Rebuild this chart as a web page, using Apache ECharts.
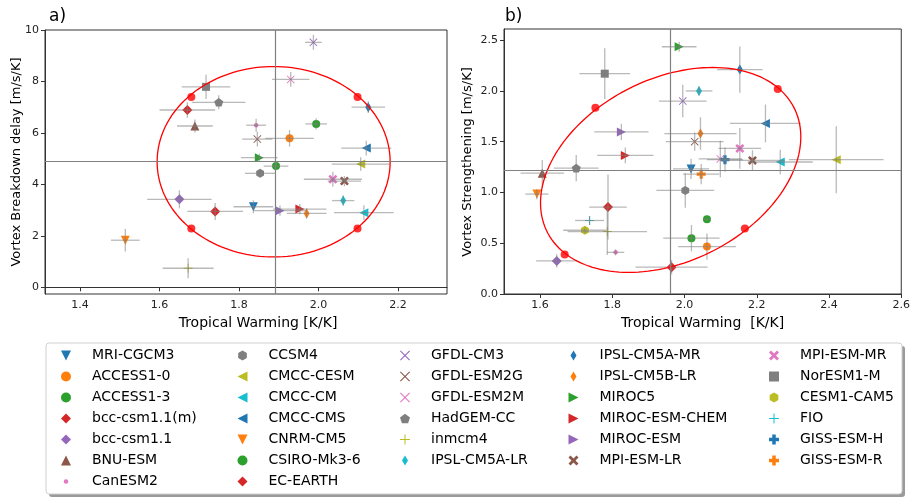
<!DOCTYPE html>
<html>
<head>
<meta charset="utf-8">
<script src="https://cdn.jsdelivr.net/npm/echarts@6/dist/echarts.min.js"></script>
<style>
html, body {margin: 0; padding: 0; background: #fff;}
#chart {width: 913px; height: 497px;}
</style>
</head>
<body>
<div id="chart"></div>
<script>
// model names, in legend order
const models = ['MRI-CGCM3', 'ACCESS1-0', 'ACCESS1-3', 'bcc-csm1.1(m)', 'bcc-csm1.1', 'BNU-ESM', 'CanESM2',
    'CCSM4', 'CMCC-CESM', 'CMCC-CM', 'CMCC-CMS', 'CNRM-CM5', 'CSIRO-Mk3-6', 'EC-EARTH',
    'GFDL-CM3', 'GFDL-ESM2G', 'GFDL-ESM2M', 'HadGEM-CC', 'inmcm4', 'IPSL-CM5A-LR',
    'IPSL-CM5A-MR', 'IPSL-CM5B-LR', 'MIROC5', 'MIROC-ESM-CHEM', 'MIROC-ESM', 'MPI-ESM-LR',
    'MPI-ESM-MR', 'NorESM1-M', 'CESM1-CAM5', 'FIO', 'GISS-ESM-H', 'GISS-ESM-R']
const markers = ['v', 'o', 'o', 'D', 'D', '^', '.',
    'h', '<', '<', '<', 'v', 'o', 'D',
    'x', 'x', 'x', 'p', '+', 'd',
    'd', 'd', '>', '>', '>', 'X',
    'X', 's', 'h', '+', 'P', 'P']
const tab10 = ['#1f77b4', '#ff7f0e', '#2ca02c', '#d62728', '#9467bd', '#8c564b', '#e377c2', '#7f7f7f', '#bcbd22', '#17becf']

// panel a) tropical warming vs vortex breakdown delay
const warmA = [1.836, 1.927, 1.893, 1.670, 1.650, 1.689, 1.843,
    1.853, 2.106, 2.114, 2.120, 1.514, 1.994, 1.740,
    1.987, 1.846, 1.930, 1.749, 1.672, 2.062,
    2.125, 1.970, 1.851, 1.953, 1.903, 2.065,
    2.036, 1.717, null, null, null, null]
const warmErrA = [0.05, 0.061, 0.031, 0.07, 0.081, 0.045, 0.025,
    0.038, 0.073, 0.075, 0.063, 0.036, 0.027, 0.07,
    0.021, 0.038, 0.047, 0.067, 0.064, 0.028,
    0.042, 0.05, 0.046, 0.067, 0.065, 0.042,
    0.073, 0.061, null, null, null, null]
const delayA = [3.13, 5.79, 4.71, 6.89, 3.42, 6.27, 6.30,
    4.43, 4.79, 2.90, 5.41, 1.83, 6.35, 2.95,
    9.52, 5.76, 8.08, 7.19, 0.74, 3.37,
    7.00, 2.87, 5.04, 3.04, 2.98, 4.13,
    4.20, 7.79, null, null, null, null]
const delayErrA = [0.25, 0.32, 0.15, 0.30, 0.35, 0.25, 0.25,
    0.15, 0.26, 0.29, 0.29, 0.44, 0.22, 0.33,
    0.29, 0.29, 0.29, 0.27, 0.39, 0.20,
    0.23, 0.20, 0.15, 0.20, 0.20, 0.20,
    0.29, 0.47, null, null, null, null]

// panel b) tropical warming vs vortex strengthening
const warmB = [2.018, 2.062, 2.019, 1.788, 1.646, 1.606, 1.809,
    2.002, 2.420, 2.265, 2.224, 1.591, 2.062, 1.964,
    1.995, 2.028, 2.099, 1.700, 1.786, 2.040,
    2.153, 2.044, 1.985, 1.836, 1.825, 2.188,
    2.153, 1.779, 1.724, 1.737, 2.112, 2.046]
const warmErrB = [0.05, 0.08, 0.078, 0.052, 0.057, 0.06, 0.024,
    0.08, 0.131, 0.09, 0.098, 0.032, 0.01, 0.10,
    0.066, 0.08, 0.06, 0.062, 0.11, 0.037,
    0.063, 0.10, 0.048, 0.078, 0.075, 0.09,
    0.059, 0.07, 0.06, 0.04, 0.05, 0.05]
const strengthB = [1.232, 0.467, 0.55, 0.856, 0.326, 1.19, 0.41,
    1.02, 1.323, 1.30, 1.68, 0.984, 0.737, 0.264,
    1.90, 1.50, 1.33, 1.24, 0.615, 2.00,
    2.21, 1.58, 2.435, 1.365, 1.596, 1.316,
    1.434, 2.17, 0.628, 0.724, 1.323, 1.18]
const strengthErrB = [0.10, 0.13, 0.13, 0.32, 0.065, 0.13, 0.03,
    0.17, 0.33, 0.12, 0.186, 0.05, 0.02, 0.07,
    0.16, 0.09, 0.18, 0.13, 0.23, 0.045,
    0.227, 0.16, 0.05, 0.077, 0.08, 0.10,
    0.20, 0.25, 0.03, 0.045, 0.12, 0.10]

// multi-model means and spread ellipses: [cx, cy, ux, uy, vx, vy]
const meanA = [1.886, 4.88]
const meanB = [1.959, 1.217]
const ellipseA = [1.887, 4.88, 0.293, 0, 0, 3.70]
const ellipseB = [1.9615, 1.222, 0.355, 0.156, 0.062, 0.997]
const ellipseDotsA = [[1.68, 7.40], [2.098, 7.40], [1.68, 2.29], [2.098, 2.29]]
const ellipseDotsB = [[1.753, 1.834], [2.258, 2.02], [1.668, 0.39], [2.167, 0.644]]

// tick labels
const ticksAx = [1.4, 1.6, 1.8, 2.0, 2.2]
const ticksAy = [0, 2, 4, 6, 8, 10]
const ticksBx = [1.6, 1.8, 2.0, 2.2, 2.4, 2.6]
const ticksBy = [0, 0.5, 1.0, 1.5, 2.0, 2.5]

const FONT = 'DejaVu Sans'

const markerStyle = {
    'v': {symbol: 'path://M0,0 L20,0 L10,20 Z', size: 9},
    '^': {symbol: 'path://M10,0 L20,20 L0,20 Z', size: 9},
    '<': {symbol: 'path://M20,0 L20,20 L0,10 Z', size: 9},
    '>': {symbol: 'path://M0,0 L20,10 L0,20 Z', size: 9},
    'o': {symbol: 'circle', size: 8},
    's': {symbol: 'rect', size: 8},
    'D': {symbol: 'path://M5,0 L10,5 L5,10 L0,5 Z', size: 10},
    'd': {symbol: 'path://M3,0 L6,5 L3,10 L0,5 Z', size: 10},
    '.': {symbol: 'path://M0,0 M20,20 M5.5,10 A4.5,4.5 0 1,1 14.5,10 A4.5,4.5 0 1,1 5.5,10 Z', size: 10},
    'h': {symbol: 'path://M10,0 L18.66,5 L18.66,15 L10,20 L1.34,15 L1.34,5 Z', size: 9},
    'p': {symbol: 'path://M10,0 L19.51,6.91 L15.88,18.09 L4.12,18.09 L0.49,6.91 Z', size: 9},
    'x': {symbol: 'path://M1.5,0 L10,8.5 L18.5,0 L20,1.5 L11.5,10 L20,18.5 L18.5,20 L10,11.5 L1.5,20 L0,18.5 L8.5,10 L0,1.5 Z', size: 8},
    'X': {symbol: 'path://M4,0 L10,6 L16,0 L20,4 L14,10 L20,16 L16,20 L10,14 L4,20 L0,16 L6,10 L0,4 Z', size: 9},
    '+': {symbol: 'path://M9,0 L11,0 L11,9 L20,9 L20,11 L11,11 L11,20 L9,20 L9,11 L0,11 L0,9 L9,9 Z', size: 9},
    'P': {symbol: 'path://M6.5,0 L13.5,0 L13.5,6.5 L20,6.5 L20,13.5 L13.5,13.5 L13.5,20 L6.5,20 L6.5,13.5 L0,13.5 L0,6.5 L6.5,6.5 Z', size: 9}
}

function errRows(xs, xe, ys, ye) {
    let rows = []
    for (let i = 0; i < xs.length; i++) {
        if (xs[i] !== null) rows.push([xs[i], ys[i], xe[i], ye[i]])
    }
    return rows
}

function renderErrorBar(params, api) {
    let x = api.value(0), y = api.value(1), ex = api.value(2), ey = api.value(3)
    let l = api.coord([x - ex, y]), r = api.coord([x + ex, y])
    let t = api.coord([x, y + ey]), b = api.coord([x, y - ey])
    return {
        type: 'group',
        children: [
            {type: 'line', shape: {x1: l[0], y1: l[1], x2: r[0], y2: r[1]}, style: {stroke: 'rgba(128,128,128,0.55)', lineWidth: 1.3}},
            {type: 'line', shape: {x1: t[0], y1: t[1], x2: b[0], y2: b[1]}, style: {stroke: 'rgba(128,128,128,0.55)', lineWidth: 1.3}}
        ]
    }
}

function renderEllipse(params, api) {
    let cx = api.value(0), cy = api.value(1), ux = api.value(2), uy = api.value(3), vx = api.value(4), vy = api.value(5)
    let pts = []
    for (let i = 0; i <= 160; i++) {
        let t = i / 160 * Math.PI * 2
        pts.push(api.coord([cx + ux * Math.cos(t) + vx * Math.sin(t), cy + uy * Math.cos(t) + vy * Math.sin(t)]))
    }
    return {type: 'polyline', shape: {points: pts}, style: {stroke: '#ff0000', fill: null, lineWidth: 1.3}}
}

function makeAxis(min, max, ticks, fmt, gridIndex, name, namePad) {
    return {
        type: 'value', gridIndex: gridIndex, min: min, max: max,
        name: name, nameLocation: 'middle', nameGap: 21,
        nameTextStyle: {fontFamily: FONT, fontSize: 14, color: '#000', padding: namePad || 0},
        splitLine: {show: false},
        axisLine: {show: true, lineStyle: {color: '#333', width: 1}},
        axisTick: {show: true, length: 4, lineStyle: {color: '#333'}, customValues: ticks},
        axisLabel: {fontFamily: FONT, fontSize: 11, color: '#222', margin: 6, customValues: ticks, formatter: fmt}
    }
}

let series = []
models.forEach(function (m, i) {
    let ms = markerStyle[markers[i]]
    let base = {
        name: m, type: 'scatter',
        symbol: ms.symbol, symbolSize: ms.size, symbolKeepAspect: true,
        itemStyle: {color: tab10[i % 10], opacity: 1},
        emphasis: {disabled: true}, z: 2
    }
    series.push(Object.assign({}, base, {xAxisIndex: 0, yAxisIndex: 0, data: warmA[i] === null ? [] : [[warmA[i], delayA[i]]]}))
    series.push(Object.assign({}, base, {xAxisIndex: 1, yAxisIndex: 1, data: [[warmB[i], strengthB[i]]]}))
})

series.push({
    type: 'custom', xAxisIndex: 0, yAxisIndex: 0, renderItem: renderErrorBar, silent: true, z: 3,
    encode: {x: 0, y: 1}, data: errRows(warmA, warmErrA, delayA, delayErrA)
})
series.push({
    type: 'custom', xAxisIndex: 1, yAxisIndex: 1, renderItem: renderErrorBar, silent: true, z: 3,
    encode: {x: 0, y: 1}, data: errRows(warmB, warmErrB, strengthB, strengthErrB)
})
series.push({
    type: 'custom', xAxisIndex: 0, yAxisIndex: 0, renderItem: renderEllipse, silent: true, z: 4,
    encode: {x: 0, y: 1}, data: [ellipseA]
})
series.push({
    type: 'custom', xAxisIndex: 1, yAxisIndex: 1, renderItem: renderEllipse, silent: true, z: 4,
    encode: {x: 0, y: 1}, data: [ellipseB]
})
;[[0, ellipseDotsA, meanA], [1, ellipseDotsB, meanB]].forEach(function (p) {
    series.push({
        name: 'dots' + p[0], type: 'scatter', xAxisIndex: p[0], yAxisIndex: p[0], z: 5,
        symbol: 'circle', symbolSize: 8, itemStyle: {color: '#ff0000'}, emphasis: {disabled: true},
        data: p[1],
        markLine: {
            silent: true, symbol: 'none', label: {show: false}, animation: false,
            lineStyle: {color: '#808080', type: 'solid', width: 1.2},
            data: [{xAxis: p[2][0]}, {yAxis: p[2][1]}]
        }
    })
})

const legendCols = [models.slice(0, 7), models.slice(7, 14), models.slice(14, 20), models.slice(20, 26), models.slice(26, 32)]
const legendLeft = [61, 237.5, 400, 568.5, 769]

let chart = echarts.init(document.getElementById('chart'), null, {renderer: 'canvas'})
chart.setOption({
    animation: false,
    backgroundColor: '#fff',
    grid: [
        {left: 45, top: 30, width: 402, height: 264, show: true, borderColor: '#333', borderWidth: 1},
        {left: 504, top: 29, width: 401, height: 265, show: true, borderColor: '#333', borderWidth: 1}
    ],
    xAxis: [
        makeAxis(1.312, 2.323, ticksAx, function (v) { return v.toFixed(1) }, 0, 'Tropical Warming [K/K]', [0, 0, 0, 24]),
        makeAxis(1.5, 2.6, ticksBx, function (v) { return v.toFixed(1) }, 1, 'Tropical Warming  [K/K]')
    ],
    yAxis: [
        makeAxis(-0.26, 10, ticksAy, function (v) { return String(v) }, 0, ''),
        makeAxis(0, 2.61, ticksBy, function (v) { return v.toFixed(1) }, 1, '')
    ],
    legend: legendCols.map(function (names, i) {
        return {
            orient: 'vertical', left: legendLeft[i], top: 348.5, padding: 0,
            itemWidth: 10, itemHeight: 10, itemGap: 7, selectedMode: false,
            data: names,
            textStyle: {fontFamily: FONT, fontSize: 14, color: '#000', padding: [0, 0, 0, 16]}
        }
    }),
    graphic: [
        {type: 'rect', z: 0, shape: {x: 49, y: 346, width: 856, height: 151, r: 3}, style: {fill: '#9a9a9a'}},
        {type: 'rect', z: 0, shape: {x: 46, y: 343, width: 856, height: 151, r: 3}, style: {fill: '#fff', stroke: '#cfcfcf', lineWidth: 1}},
        {type: 'text', z: 10, x: 49, y: 8, style: {text: 'a)', fontFamily: FONT, fontSize: 17, fill: '#000'}},
        {type: 'text', z: 10, x: 505, y: 8, style: {text: 'b)', fontFamily: FONT, fontSize: 17, fill: '#000'}},
        {type: 'text', z: 10, x: 17, y: 162, rotation: Math.PI / 2,
            style: {text: 'Vortex Breakdown delay [m/s/K]', fontFamily: FONT, fontSize: 13, fill: '#000', align: 'center', verticalAlign: 'middle'}},
        {type: 'text', z: 10, x: 468, y: 162, rotation: Math.PI / 2,
            style: {text: 'Vortex Strengthening [m/s/K]', fontFamily: FONT, fontSize: 13, fill: '#000', align: 'center', verticalAlign: 'middle'}}
    ],
    series: series
})
</script>
</body>
</html>
